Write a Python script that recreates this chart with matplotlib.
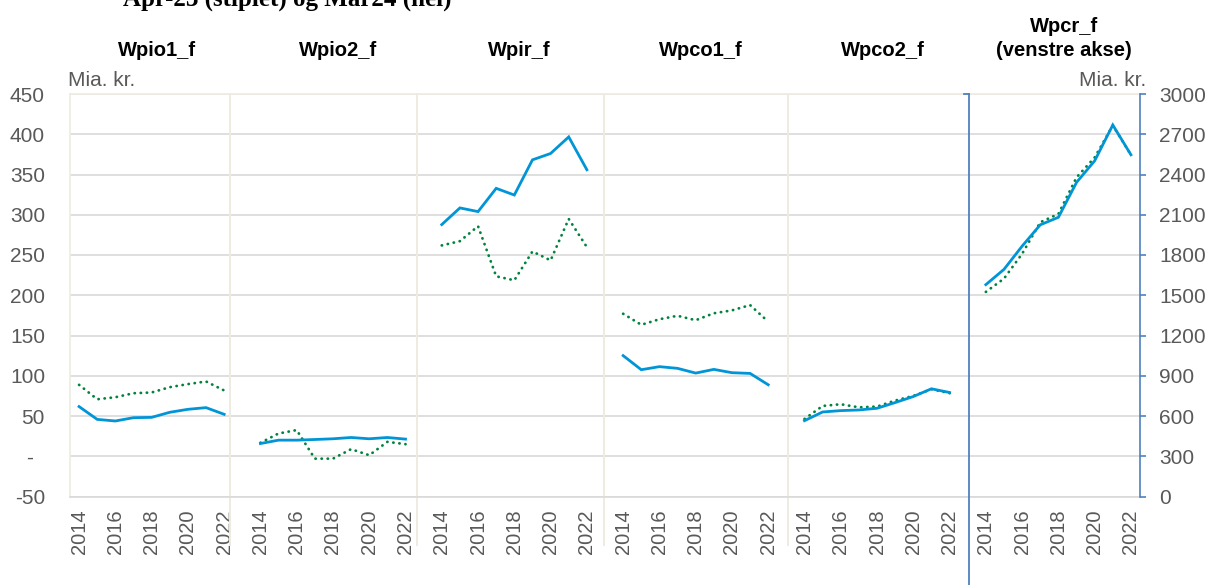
import matplotlib
matplotlib.use('Agg')
import matplotlib.pyplot as plt
import matplotlib.transforms as mtransforms
from matplotlib.lines import Line2D
from matplotlib.ticker import FuncFormatter

# ---------------- data ----------------
years = [2014, 2015, 2016, 2017, 2018, 2019, 2020, 2021, 2022]
panel_titles = ['Wpio1_f', 'Wpio2_f', 'Wpir_f', 'Wpco1_f', 'Wpco2_f', 'Wpcr_f\n(venstre akse)']

# Mar24 (solid) and Apr-23 (dotted), Mia. kr.
wpio1_mar24 = [61.7, 45.8, 43.8, 47.9, 48.3, 54.6, 58.3, 60.4, 52.1]
wpio1_apr23 = [88.7, 70.8, 73.3, 78.3, 79.2, 85.8, 89.6, 92.9, 81.7]
wpio2_mar24 = [15.8, 20.0, 20.0, 20.8, 21.7, 23.3, 21.7, 23.3, 21.3]
wpio2_apr23 = [16.7, 28.3, 32.5, -3.0, -3.0, 8.8, 1.3, 17.9, 15.0]
wpir_mar24 = [287.8, 308.5, 303.9, 332.8, 324.5, 368.2, 376.1, 396.7, 355.9]
wpir_apr23 = [261.9, 267.2, 285.8, 223.5, 218.6, 254.4, 243.3, 294.8, 259.8]
wpco1_mar24 = [125.0, 107.5, 111.3, 109.2, 103.3, 107.9, 103.8, 102.9, 88.8]
wpco1_apr23 = [177.0, 163.3, 170.2, 174.5, 169.0, 177.6, 181.2, 187.8, 167.1]
wpco2_mar24 = [44.2, 55.0, 56.7, 57.5, 59.6, 66.7, 74.2, 83.8, 79.2]
wpco2_apr23 = [46.3, 62.5, 64.6, 60.8, 61.7, 69.2, 75.0, 83.3, 78.3]
# right axis
wpcr_mar24 = [1579, 1693, 1866, 2025, 2081, 2341, 2502, 2769, 2547]
wpcr_apr23 = [1525, 1624, 1809, 2044, 2106, 2378, 2527, 2765, 2547]

left_ticks = [-50, 0, 50, 100, 150, 200, 250, 300, 350, 400, 450]
right_ticks = [0, 300, 600, 900, 1200, 1500, 1800, 2100, 2400, 2700, 3000]

solid_series = [wpio1_mar24, wpio2_mar24, wpir_mar24, wpco1_mar24, wpco2_mar24, wpcr_mar24]
dotted_series = [wpio1_apr23, wpio2_apr23, wpir_apr23, wpco1_apr23, wpco2_apr23, wpcr_apr23]

# ---------------- style ----------------
plt.rcParams['font.family'] = ['Liberation Sans', 'DejaVu Sans']
BLUE = '#0095D6'
GREEN = '#00843D'
GRID = '#D9D9D9'
BEIGE = '#EEECE1'
AXBLUE = '#4F81BD'
TXT = '#595959'
W, H = 1208, 585
GROUP_STEP = 10  # 9 years + 1 empty slot

fig = plt.figure(figsize=(W / 100, H / 100), dpi=100)
ax = fig.add_axes([70 / W, 88.5 / H, 1070 / W, 402.5 / H])
ax2 = ax.twinx()

n_groups = len(panel_titles)
ax.set_xlim(-0.5, GROUP_STEP * (n_groups - 1) + len(years) - 0.5)
ax.set_ylim(left_ticks[0], left_ticks[-1])
ax2.set_ylim(right_ticks[0], right_ticks[-1])

for g in range(n_groups):
    xs = [GROUP_STEP * g + i for i in range(len(years))]
    target = ax2 if g == n_groups - 1 else ax
    target.plot(xs, dotted_series[g], color=GREEN, lw=2.0,
                linestyle=(0, (0.1, 2.1)), dash_capstyle='round', zorder=3)
    target.plot(xs, solid_series[g], color=BLUE, lw=2.0,
                solid_joinstyle='miter', zorder=4)

# x ticks: even years in every group
xt, xl = [], []
for g in range(n_groups):
    for i, y in enumerate(years):
        if y % 2 == 0:
            xt.append(GROUP_STEP * g + i)
            xl.append(str(y))
ax.set_xticks(xt)
ax.set_xticklabels(xl, rotation=90, fontsize=14.5, color=TXT)
ax.tick_params(axis='x', length=0, pad=9.5)

# left axis
ax.set_yticks(left_ticks)
ax.yaxis.set_major_formatter(FuncFormatter(lambda v, p: '-  ' if v == 0 else f'{int(v)}'))
ax.tick_params(axis='y', length=0, pad=18, labelsize=15, labelcolor=TXT)
ax.yaxis.grid(True, color=GRID, lw=1.2)
ax.set_axisbelow(True)

ax.spines['left'].set_color(BEIGE)
ax.spines['left'].set_linewidth(1.2)
ax.spines['top'].set_color(BEIGE)
ax.spines['top'].set_linewidth(1.2)
ax.spines['bottom'].set_color(GRID)
ax.spines['bottom'].set_linewidth(1.2)
ax.spines['right'].set_visible(False)

# right axis
ax2.set_yticks(right_ticks)
ax2.tick_params(axis='y', direction='out', length=4, width=1.2, color=AXBLUE,
                pad=10, labelsize=15, labelcolor=TXT)
for s in ['left', 'top', 'bottom']:
    ax2.spines[s].set_visible(False)
ax2.spines['right'].set_color(AXBLUE)
ax2.spines['right'].set_linewidth(1.2)

# group separators
trans = mtransforms.blended_transform_factory(ax.transData, ax.transAxes)
sep_positions = [8.32, 18.63, 28.94, 39.08]
for xp in sep_positions:
    ax.add_line(Line2D([xp, xp], [-0.1205, 1], transform=trans, color=BEIGE,
                       lw=1.4, clip_on=False, zorder=1))
blue_sep = 49.06
ax.add_line(Line2D([blue_sep, blue_sep], [-0.23, 1], transform=trans, color=AXBLUE,
                   lw=1.3, clip_on=False, zorder=5))
ax.add_line(Line2D([blue_sep - 0.28, blue_sep], [1, 1], transform=trans, color=AXBLUE,
                   lw=1.3, clip_on=False, zorder=5))

# panel titles
ttrans = mtransforms.blended_transform_factory(ax.transData, fig.transFigure)
for g, t in enumerate(panel_titles):
    ax.text(GROUP_STEP * g + 4.3, 1 - 60 / H, t, transform=ttrans, ha='center',
            va='bottom', fontsize=14.5, fontweight='bold', color='black',
            linespacing=1.3)

# unit labels
fig.text(68 / W, 1 - 81 / H, 'Mia. kr.', ha='left', va='center', fontsize=15, color=TXT)
fig.text(1146 / W, 1 - 81 / H, 'Mia. kr.', ha='right', va='center', fontsize=15, color=TXT)

# clipped main title at the very top
fig.text(287 / W, 1 - 6 / H, 'Apr-23 (stiplet) og Mar24 (hel)', ha='center', va='baseline',
         fontsize=18, fontweight='bold', family=['Liberation Serif', 'DejaVu Serif'],
         color='black')

fig.savefig('out.png', dpi=100)
